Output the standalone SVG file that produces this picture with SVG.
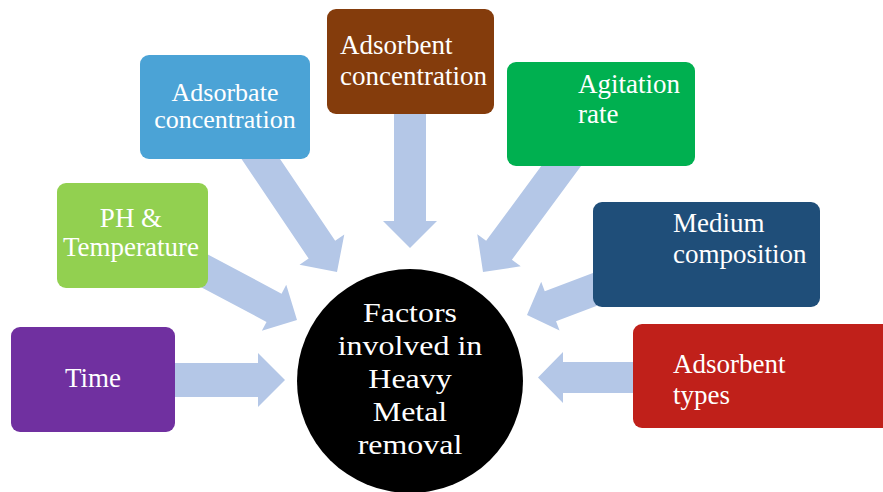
<svg xmlns="http://www.w3.org/2000/svg" width="883" height="492" viewBox="0 0 883 492">
<style>
.arrow{fill:#b4c7e7}
.box text,.hub text{font-family:"Liberation Serif","Times New Roman",serif;fill:#ffffff}
.box text{font-size:27px}
.box text.s{font-size:26px}
.hub text{font-size:28px;text-anchor:middle}
.c{text-anchor:middle}
</style>
<rect width="883" height="492" fill="#ffffff"/>
<g id="connectors">
<path class="arrow" transform="translate(285,380)" d="M-120,-17 L-27,-17 L-27,-27 L0,0 L-27,27 L-27,17 L-120,17 Z"/>
<path class="arrow" transform="translate(297,320) rotate(28)" d="M-115,-16 L-26,-16 L-26,-26 L0,0 L-26,26 L-26,16 L-115,16 Z"/>
<path class="arrow" transform="translate(337,272) rotate(56)" d="M-150,-16 L-27,-16 L-27,-27 L0,0 L-27,27 L-27,16 L-150,16 Z"/>
<path class="arrow" transform="translate(410,248) rotate(90)" d="M-148,-16 L-27,-16 L-27,-27 L0,0 L-27,27 L-27,16 L-148,16 Z"/>
<path class="arrow" transform="translate(483,272) rotate(126.4)" d="M-145,-16 L-27,-16 L-27,-27 L0,0 L-27,27 L-27,16 L-145,16 Z"/>
<path class="arrow" transform="translate(527,315) rotate(159.3)" d="M-85,-16 L-25,-16 L-25,-26 L0,0 L-25,26 L-25,16 L-85,16 Z"/>
<path class="arrow" transform="translate(538,377.5) rotate(180)" d="M-110,-15.5 L-25,-15.5 L-25,-25.5 L0,0 L-25,25.5 L-25,15.5 L-110,15.5 Z"/>
</g>
<g id="time" class="box">
<rect x="11" y="327" width="164" height="105" rx="9" fill="#7030a0"/>
<text class="c" x="93" y="387">Time</text>
</g>
<g id="ph-temperature" class="box">
<rect x="57" y="183" width="151" height="105" rx="9" fill="#92d050"/>
<text class="c" x="131" y="227">PH &amp;</text>
<text class="c" x="131" y="256">Temperature</text>
</g>
<g id="adsorbate-concentration" class="box">
<rect x="140" y="55" width="170" height="104" rx="9" fill="#4ba3d6"/>
<text class="c s" x="225" y="101">Adsorbate</text>
<text class="c s" x="225" y="128">concentration</text>
</g>
<g id="adsorbent-concentration" class="box">
<rect x="327" y="9" width="167" height="105" rx="9" fill="#843c0c"/>
<text x="340" y="54">Adsorbent</text>
<text x="340" y="85">concentration</text>
</g>
<g id="agitation-rate" class="box">
<rect x="507" y="62" width="188" height="104" rx="9" fill="#00b050"/>
<text x="578" y="93">Agitation</text>
<text x="578" y="123">rate</text>
</g>
<g id="medium-composition" class="box">
<rect x="593" y="202" width="227" height="105" rx="9" fill="#1f4e79"/>
<text x="673" y="232">Medium</text>
<text x="673" y="263">composition</text>
</g>
<g id="adsorbent-types" class="box">
<rect x="633" y="324" width="260" height="104" rx="9" fill="#c0201a"/>
<text x="673" y="373">Adsorbent</text>
<text x="673" y="404">types</text>
</g>
<g id="hub" class="hub">
<ellipse cx="410" cy="381" rx="113" ry="112" fill="#000000"/>
<g transform="translate(410,0) scale(1.14,1)">
<text x="0" y="322">Factors</text>
<text x="0" y="355">involved in</text>
<text x="0" y="388">Heavy</text>
<text x="0" y="421">Metal</text>
<text x="0" y="454">removal</text>
</g>
</g>
</svg>
